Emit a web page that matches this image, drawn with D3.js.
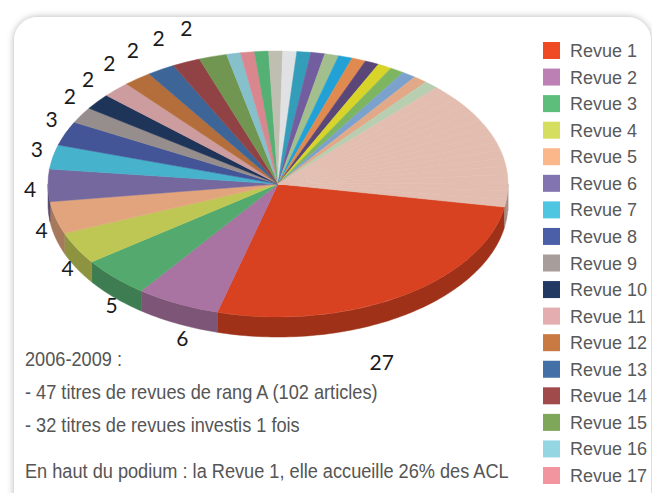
<!DOCTYPE html>
<html><head><meta charset="utf-8">
<script src="https://cdn.jsdelivr.net/npm/d3@7"></script>
<style>
html,body{margin:0;padding:0;background:#fff;}
svg{display:block;}
</style></head>
<body>
<svg id="chart" width="652" height="493"></svg>
<script>
// ---------------- data ----------------
const values = [27, 6, 5, 4, 4, 4, 3, 3, 2, 2, 2, 2, 2, 2, 2,
  1, 1, 1, 1, 1, 1, 1, 1, 1, 1, 1, 1, 1, 1, 1, 1,
  1, 1, 1, 1, 1, 1, 1, 1, 1, 1, 1, 1, 1, 1, 1, 1];
const categories = values.map((v, i) => "Revue " + (i + 1));
const dataLabels = ["27", "6", "5", "4", "4", "4", "3", "3", "2", "2", "2", "2", "2", "2"];
const legendCount = 17;
const colors = ["#F04A24", "#BC80B4", "#5DBD7A", "#D5DE5E", "#FBB68A", "#8274B0", "#4EC6E2", "#4B5FA8",
  "#A79E9C", "#223A63", "#E4AEB0", "#C87A42", "#4470A8", "#A04A4C", "#7EA75A", "#94D6E2", "#F3959F",
  "#5EC480", "#D5D3C4", "#F8FAFC", "#39AFCF", "#7F69B0", "#B7D59E", "#25B3ED", "#F99A58", "#644E84",
  "#F0EC2F", "#8BC96B", "#88B4E3", "#FCBC97", "#CCE6C4", "#FBD2C4"];
const notes = ["2006-2009 :", "- 47 titres de revues de rang A (102 articles)",
  "- 32 titres de revues investis 1 fois", "En haut du podium : la Revue 1, elle accueille 26% des ACL"];

// ---------------- layout ----------------
const cx = 278, cy = 184, rx = 230, ry = 133, depth = 20;
const startDeg = 10; // screen angle of first slice start (clockwise from 3 o'clock)
const colorOf = i => colors[Math.min(i, colors.length - 1)];

const svg = d3.select("#chart");
const defs = svg.append("defs");
const f = defs.append("filter").attr("id", "sh").attr("x", "-10%").attr("y", "-10%").attr("width", "120%").attr("height", "120%");
f.append("feDropShadow").attr("dx", 0).attr("dy", 0).attr("stdDeviation", 3.5).attr("flood-color", "#000").attr("flood-opacity", 0.3);

svg.append("rect").attr("x", 14).attr("y", 17).attr("width", 637).attr("height", 520)
  .attr("rx", 24).attr("fill", "#fff").attr("filter", "url(#sh)");

const pie = d3.pie().sort(null).value(d => d)
  .startAngle((startDeg + 90) * Math.PI / 180)
  .endAngle((startDeg + 90 + 360) * Math.PI / 180);
const arcs = pie(values);

// walls (front half)
const line = d3.line();
const wallG = svg.append("g");
arcs.forEach((a, i) => {
  const t0 = a.startAngle - Math.PI / 2, t1 = a.endAngle - Math.PI / 2;
  [[0, Math.PI], [2 * Math.PI, 3 * Math.PI]].forEach(([lo, hi]) => {
    const s = Math.max(t0, lo), e = Math.min(t1, hi);
    if (e <= s) return;
    const n = Math.max(2, Math.ceil((e - s) / 0.02));
    const top = d3.range(n + 1).map(k => {
      const t = s + (e - s) * k / n;
      return [cx + rx * Math.cos(t), cy + ry * Math.sin(t)];
    });
    const bottom = top.slice().reverse().map(([x, y]) => [x, y + depth]);
    const c = d3.color(colorOf(i)).darker(1.15);
    wallG.append("path").attr("d", line(top.concat(bottom)) + "Z")
      .attr("fill", c).attr("stroke", c).attr("stroke-width", 0.5);
  });
});

// top faces
const arcGen = d3.arc().innerRadius(0).outerRadius(rx);
const topG = svg.append("g").attr("transform", `translate(${cx},${cy}) scale(1,${ry / rx})`);
topG.selectAll("path").data(arcs).join("path")
  .attr("d", arcGen)
  .attr("fill", (d, i) => d3.color(colorOf(i)).darker(0.3))
  .attr("stroke", (d, i) => d3.color(colorOf(i)).darker(0.3))
  .attr("stroke-width", 0.6);

// data labels
const labelNudge = {0: [-29, 39]};
const lblG = svg.append("g").attr("font-family", "Lato, 'Open Sans', sans-serif")
  .attr("font-size", 21).attr("fill", "#1b1b1b").attr("text-anchor", "middle");
dataLabels.forEach((txt, i) => {
  const a = arcs[i];
  const t = (a.startAngle + a.endAngle) / 2 - Math.PI / 2;
  const s = Math.sin(t);
  let x = cx + (rx + 18) * Math.cos(t) + (s < 0 ? -8 * s : 14 * s);
  let y = cy + (ry + (s > 0 ? 28 : 36)) * s + (s > 0 ? 4 + 6 * s : 0);
  const nd = labelNudge[i];
  if (nd) {
    x = cx + (rx + 18) * Math.cos(t) + nd[0];
    y = cy + (ry + 28) * s + 4 + nd[1];
  }
  lblG.append("text").attr("x", x).attr("y", y).attr("dy", "0.35em").text(txt);
});

// legend
const legY = d3.scaleLinear().domain([0, legendCount - 1]).range([42, 467]);
const legG = svg.append("g").attr("font-family", "'Liberation Sans', Arial, sans-serif").attr("font-size", 18).attr("fill", "#595959");
categories.slice(0, legendCount).forEach((name, i) => {
  legG.append("rect").attr("x", 543).attr("y", legY(i)).attr("width", 17).attr("height", 17).attr("fill", colors[i]);
  legG.append("text").attr("x", 570).attr("y", legY(i) + 15).text(name);
});

// notes (horizontally condensed to match the narrow face of the original)
const noteY = [366, 398.5, 432, 478];
const noteW = [97, 353, 275, 484];
const noteG = svg.append("g").attr("font-family", "'Liberation Sans Narrow', 'Arial Narrow', 'Liberation Sans', sans-serif")
  .attr("font-size", 21).attr("fill", "#555");
notes.forEach((t, i) => {
  const el = noteG.append("text").attr("x", 0).attr("y", 0).text(t);
  const natural = el.node().getComputedTextLength();
  el.attr("transform", `translate(25,${noteY[i]}) scale(${noteW[i] / natural},1)`);
});
</script>
</body></html>
